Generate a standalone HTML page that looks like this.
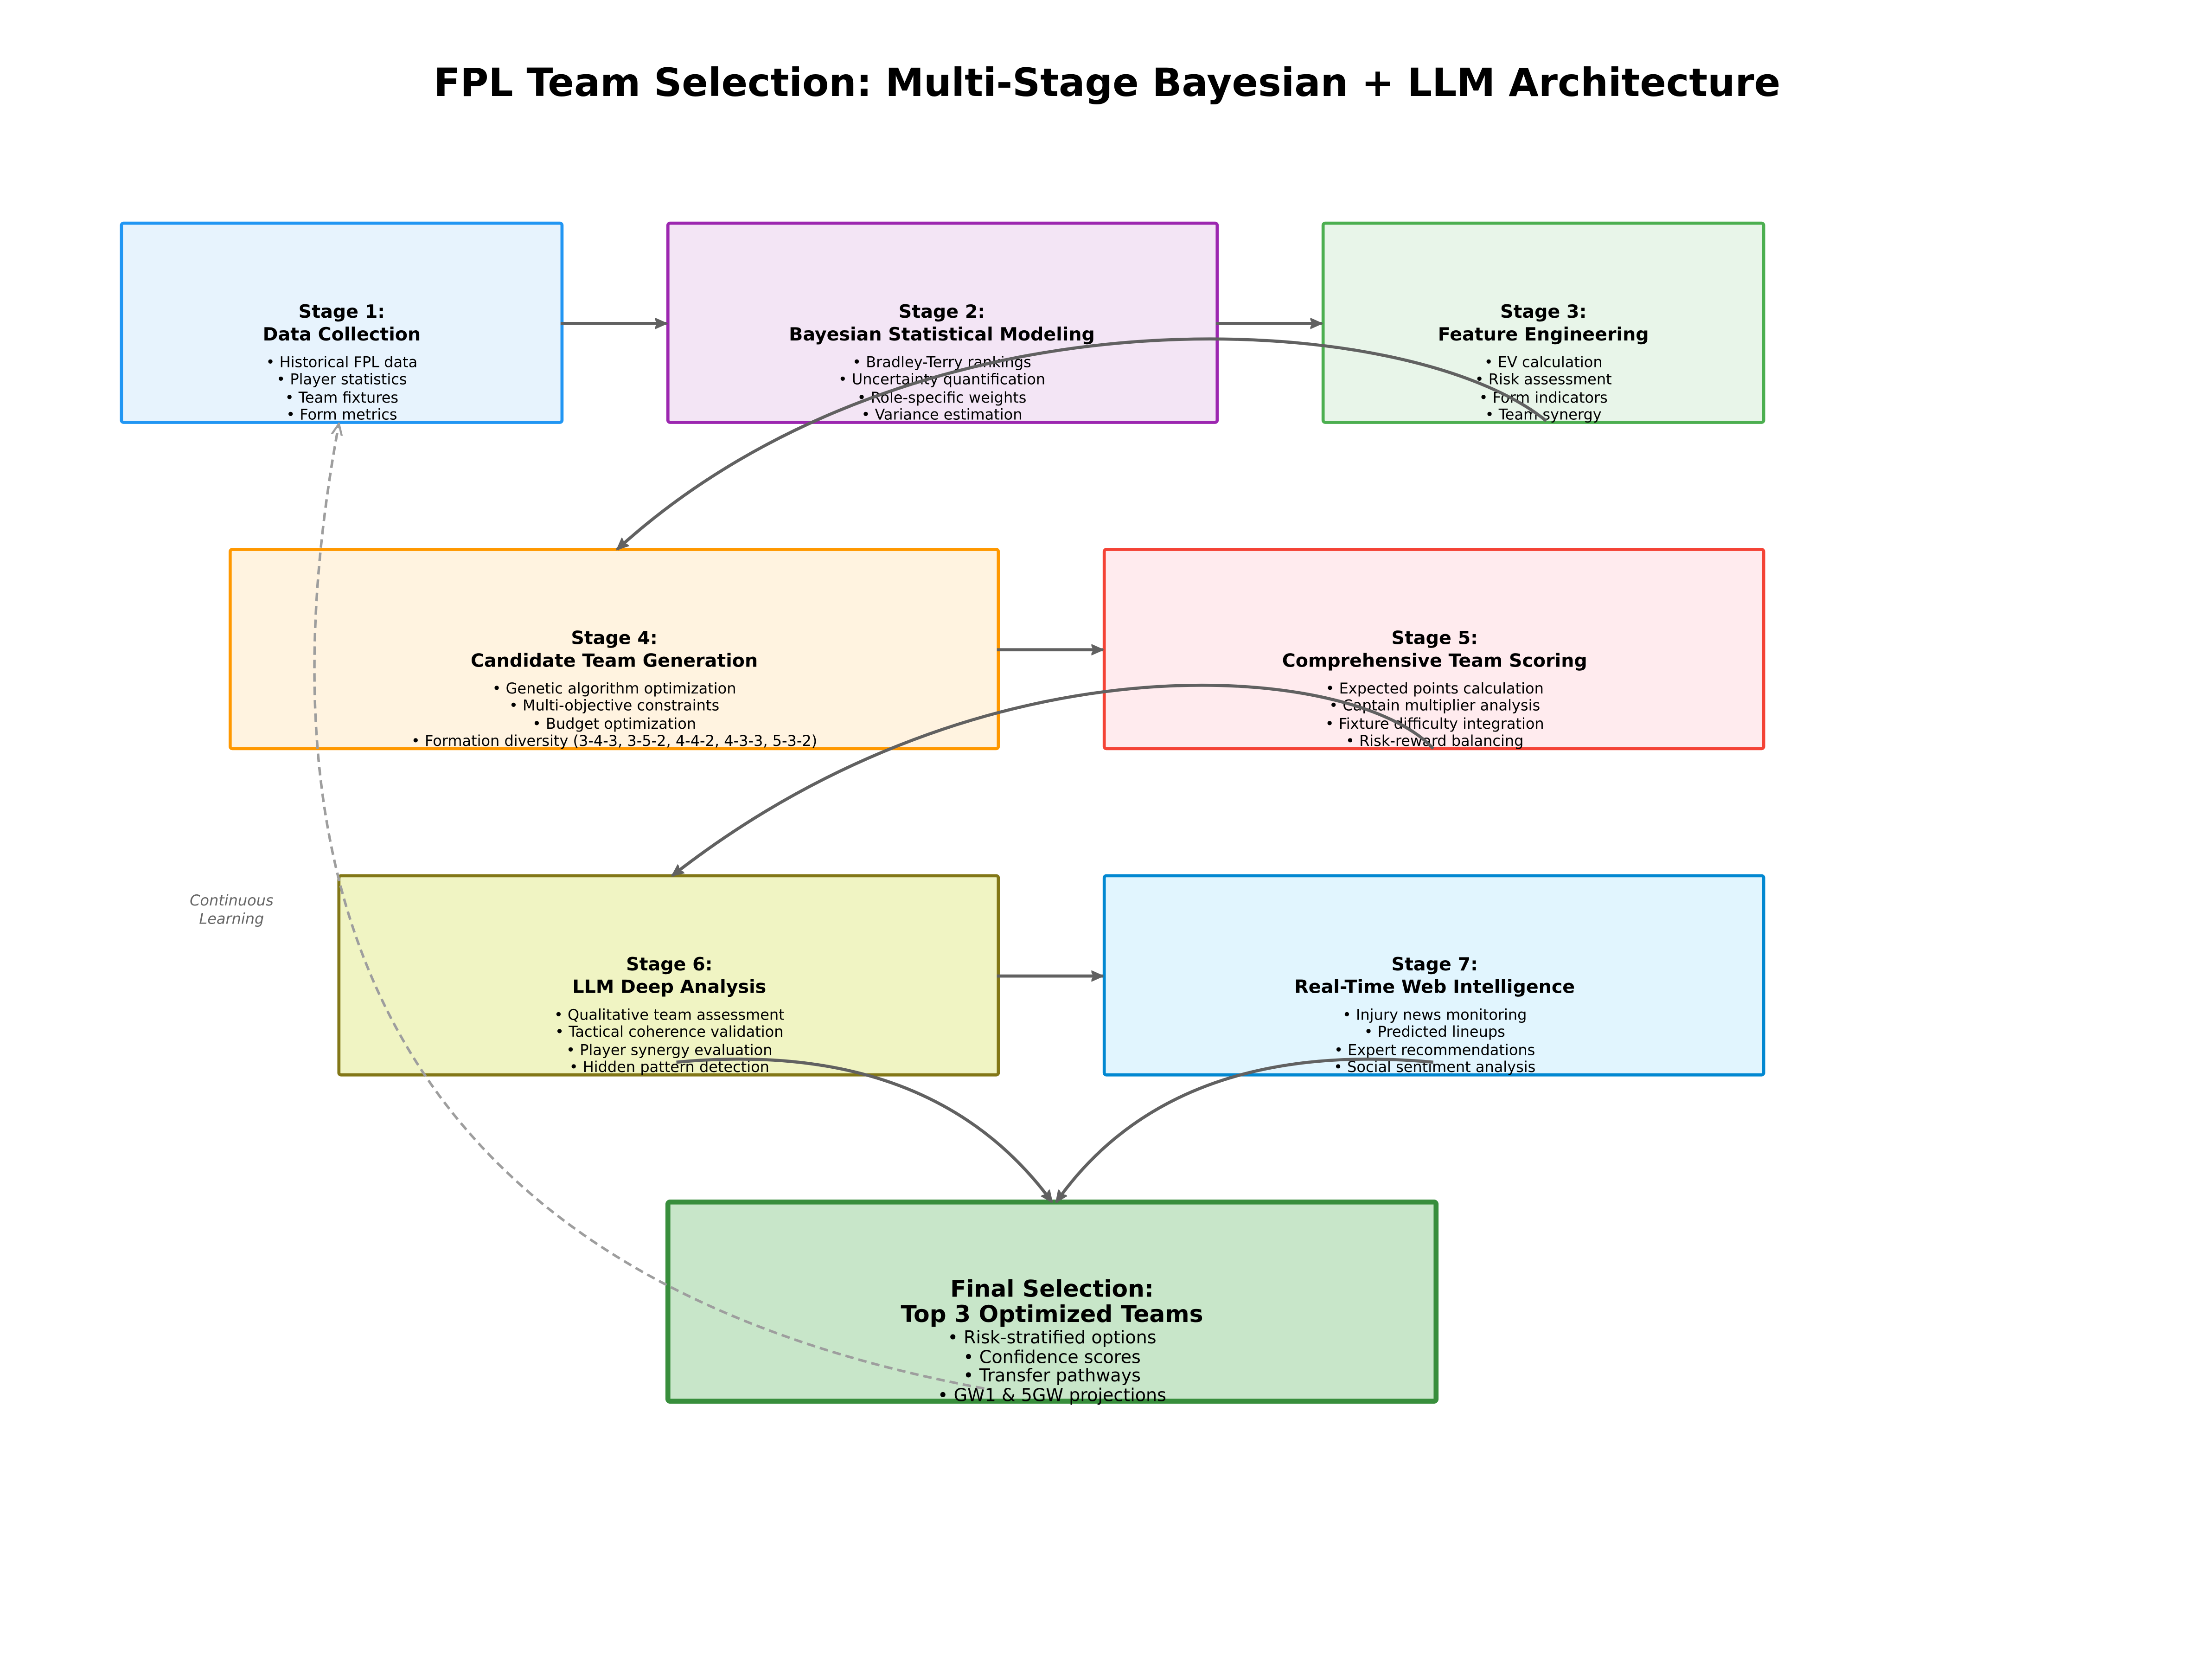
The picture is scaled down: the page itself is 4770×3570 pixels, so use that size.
<!DOCTYPE html>
<html><head><meta charset="utf-8"><style>
html,body{margin:0;padding:0;background:#fff;}
svg{display:block;}
text{font-family:"DejaVu Sans","Liberation Sans",sans-serif;}
.t{font-weight:bold;font-size:13px;text-anchor:middle;fill:#000;}
.b{font-size:10.5px;text-anchor:middle;fill:#000;}
.ft{font-weight:bold;font-size:16.5px;text-anchor:middle;fill:#000;}
.fb{font-size:12.5px;text-anchor:middle;fill:#000;}
</style></head><body>
<svg width="4770" height="3570" viewBox="0 0 1566.5 1172.4" xmlns="http://www.w3.org/2000/svg">
<defs>
<marker id="ahd" viewBox="0 0 10 10" refX="9" refY="5" markerWidth="9" markerHeight="9" orient="auto" markerUnits="userSpaceOnUse">
<path d="M0,1 L9,5 L0,9" fill="none" stroke="#9E9E9E" stroke-width="1.6"/></marker>
<marker id="ah2" viewBox="0 0 10 10" refX="9" refY="5" markerWidth="9" markerHeight="9" orient="auto" markerUnits="userSpaceOnUse">
<path d="M0,1 L9,5 L0,9 L2,5 Z" fill="#616161" stroke="#616161" stroke-width="1"/></marker>
</defs>
<text x="784" y="68" style="font-weight:bold;font-size:27.4px;text-anchor:middle;">FPL Team Selection: Multi-Stage Bayesian + LLM Architecture</text>

<g stroke-width="2.2">
<rect x="86" y="158" width="312" height="141" rx="1.5" fill="#E7F3FD" stroke="#2196F3"/>
<rect x="473" y="158" width="389" height="141" rx="1.5" fill="#F3E5F5" stroke="#9C27B0"/>
<rect x="937" y="158" width="312" height="141" rx="1.5" fill="#E8F5E9" stroke="#4CAF50"/>
<rect x="163" y="389" width="544" height="141" rx="1.5" fill="#FFF3E0" stroke="#FF9800"/>
<rect x="782" y="389" width="467" height="141" rx="1.5" fill="#FFEBEE" stroke="#F44336"/>
<rect x="240" y="620" width="467" height="141" rx="1.5" fill="#F0F4C3" stroke="#827717"/>
<rect x="782" y="620" width="467" height="141" rx="1.5" fill="#E1F5FE" stroke="#0288D1"/>
<rect x="473" y="851" width="544" height="141" rx="1.5" fill="#C8E6C9" stroke="#388E3C" stroke-width="3.5"/>
</g>

<text class="t" x="242" y="225">Stage 1:</text><text class="t" x="242" y="241">Data Collection</text>
<text class="b" x="242" y="260">• Historical FPL data</text><text class="b" x="242" y="272">• Player statistics</text><text class="b" x="242" y="285">• Team fixtures</text><text class="b" x="242" y="297">• Form metrics</text>

<text class="t" x="667" y="225">Stage 2:</text><text class="t" x="667" y="241">Bayesian Statistical Modeling</text>
<text class="b" x="667" y="260">• Bradley-Terry rankings</text><text class="b" x="667" y="272">• Uncertainty quantification</text><text class="b" x="667" y="285">• Role-specific weights</text><text class="b" x="667" y="297">• Variance estimation</text>

<text class="t" x="1093" y="225">Stage 3:</text><text class="t" x="1093" y="241">Feature Engineering</text>
<text class="b" x="1093" y="260">• EV calculation</text><text class="b" x="1093" y="272">• Risk assessment</text><text class="b" x="1093" y="285">• Form indicators</text><text class="b" x="1093" y="297">• Team synergy</text>

<text class="t" x="435" y="456">Stage 4:</text><text class="t" x="435" y="472">Candidate Team Generation</text>
<text class="b" x="435" y="491">• Genetic algorithm optimization</text><text class="b" x="435" y="503">• Multi-objective constraints</text><text class="b" x="435" y="516">• Budget optimization</text><text class="b" x="435" y="528">• Formation diversity (3-4-3, 3-5-2, 4-4-2, 4-3-3, 5-3-2)</text>

<text class="t" x="1016" y="456">Stage 5:</text><text class="t" x="1016" y="472">Comprehensive Team Scoring</text>
<text class="b" x="1016" y="491">• Expected points calculation</text><text class="b" x="1016" y="503">• Captain multiplier analysis</text><text class="b" x="1016" y="516">• Fixture difficulty integration</text><text class="b" x="1016" y="528">• Risk-reward balancing</text>

<text class="t" x="474" y="687">Stage 6:</text><text class="t" x="474" y="703">LLM Deep Analysis</text>
<text class="b" x="474" y="722">• Qualitative team assessment</text><text class="b" x="474" y="734">• Tactical coherence validation</text><text class="b" x="474" y="747">• Player synergy evaluation</text><text class="b" x="474" y="759">• Hidden pattern detection</text>

<text class="t" x="1016" y="687">Stage 7:</text><text class="t" x="1016" y="703">Real-Time Web Intelligence</text>
<text class="b" x="1016" y="722">• Injury news monitoring</text><text class="b" x="1016" y="734">• Predicted lineups</text><text class="b" x="1016" y="747">• Expert recommendations</text><text class="b" x="1016" y="759">• Social sentiment analysis</text>

<text class="ft" x="745" y="918">Final Selection:</text><text class="ft" x="745" y="936">Top 3 Optimized Teams</text>
<text class="fb" x="745" y="951">• Risk-stratified options</text><text class="fb" x="745" y="965">• Confidence scores</text><text class="fb" x="745" y="978">• Transfer pathways</text><text class="fb" x="745" y="992">• GW1 &amp; 5GW projections</text>

<text x="164" y="641" style="font-size:10.5px;font-style:italic;fill:#666;text-anchor:middle;">Continuous</text>
<text x="164" y="654" style="font-size:10.5px;font-style:italic;fill:#666;text-anchor:middle;">Learning</text>

<g fill="none" stroke="#616161" stroke-width="2.2">
<line x1="397" y1="229" x2="472" y2="229" marker-end="url(#ah2)"/>
<line x1="861" y1="229" x2="936" y2="229" marker-end="url(#ah2)"/>
<line x1="706" y1="460" x2="781" y2="460" marker-end="url(#ah2)"/>
<line x1="706" y1="691" x2="781" y2="691" marker-end="url(#ah2)"/>
<path d="M1095,298 C1000,220 650,195 437,389" marker-end="url(#ah2)"/>
<path d="M1015,530 C960,470 700,445 476,620" marker-end="url(#ah2)"/>
<path d="M479,752 Q660,735 745,851" marker-end="url(#ah2)"/>
<path d="M1015,752 Q830,735 748,851" marker-end="url(#ah2)"/>
</g>
<path d="M697,983 Q132,879 240,300" fill="none" stroke="#9E9E9E" stroke-width="1.8" stroke-dasharray="6,3.5" marker-end="url(#ahd)"/>
</svg>
</body></html>
